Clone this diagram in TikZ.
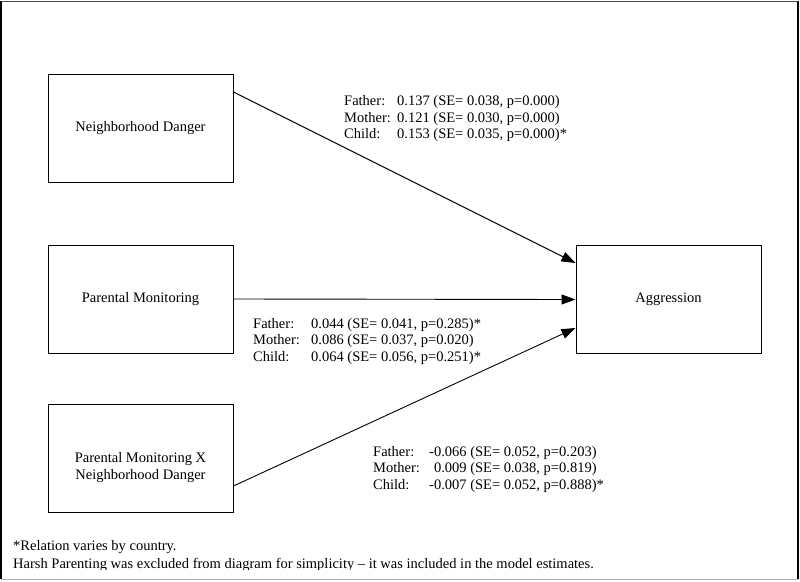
\documentclass[tikz,border=0pt]{standalone}
\usepackage{fontspec}
\setmainfont{Liberation Serif}
\usetikzlibrary{arrows.meta}

\tikzset{
  box/.style={draw, line width=1pt, minimum width=185pt, minimum height=108pt, align=center, inner sep=0pt},
  effect/.style={line width=0.9pt, -{Triangle[length=14pt,width=10pt]}},
  est/.style={align=left, anchor=north west, inner sep=0pt},
  note/.style={align=left, anchor=base west, inner sep=0pt},
}
\newcommand{\who}[2]{\makebox[#1][l]{#2}}

\begin{document}
\begin{tikzpicture}[x=1pt, y=-1pt, font=\fontsize{14.5}{16.5}\selectfont]
  \useasboundingbox (0,0) rectangle (800,581);
  \draw[line width=1.5pt] (1,1) -- (1,579);
  \draw[line width=1.5pt] (798,1) -- (798,579);
  \draw[line width=0.8pt, black!70] (1,1) -- (798,1);
  \draw[line width=0.8pt, black!30] (1,579) -- (798,579);

  % predictors and outcome
  \node[box] (nd) at (140.5,128) {Neighborhood Danger};
  \node[box] (pm) at (140.5,299) {Parental Monitoring};
  \node[box] (pmnd) at (140.5,458.5) {};
  \node[align=center, inner sep=0pt] (pmndtext) at ([yshift=-9pt]pmnd.center)
    {Parental Monitoring X\\Neighborhood Danger};
  \node[box] (agg) at (668.5,299.5) {Aggression};

  % paths
  \draw[effect] ([yshift=36pt]nd.east) -- ([yshift=36.5pt]agg.west);
  \draw[effect] (pm.east) -- (agg.west);
  \draw[effect] ([yshift=-27.5pt]pmnd.east) -- ([yshift=-28.5pt]agg.west);

  % estimates
  \node[est] (ndest) at (344,95.5) {%
    \who{53pt}{Father:}0.137 (SE= 0.038, p=0.000)\\
    \who{53pt}{Mother:}0.121 (SE= 0.030, p=0.000)\\
    \who{53pt}{Child:}0.153 (SE= 0.035, p=0.000)*};
  \node[est] (pmest) at (253,318) {%
    \who{58pt}{Father:}0.044 (SE= 0.041, p=0.285)*\\
    \who{58pt}{Mother:}0.086 (SE= 0.037, p=0.020)\\
    \who{58pt}{Child:}0.064 (SE= 0.056, p=0.251)*};
  \node[est] (pmndest) at (373,446) {%
    \who{56pt}{Father:}-0.066 (SE= 0.052, p=0.203)\\
    \who{56pt}{Mother:}\phantom{-}0.009 (SE= 0.038, p=0.819)\\
    \who{56pt}{Child:}-0.007 (SE= 0.052, p=0.888)*};

  % notes
  \begin{scope}
    \clip (1,530) rectangle (798,569);
    \node[note] (note1) at (13,550.5) {*Relation varies by country.};
    \node[note] (note2) at (13,568.5) {Harsh Parenting was excluded from diagram for simplicity -- it was included in the model estimates.};
  \end{scope}
\end{tikzpicture}
\end{document}
